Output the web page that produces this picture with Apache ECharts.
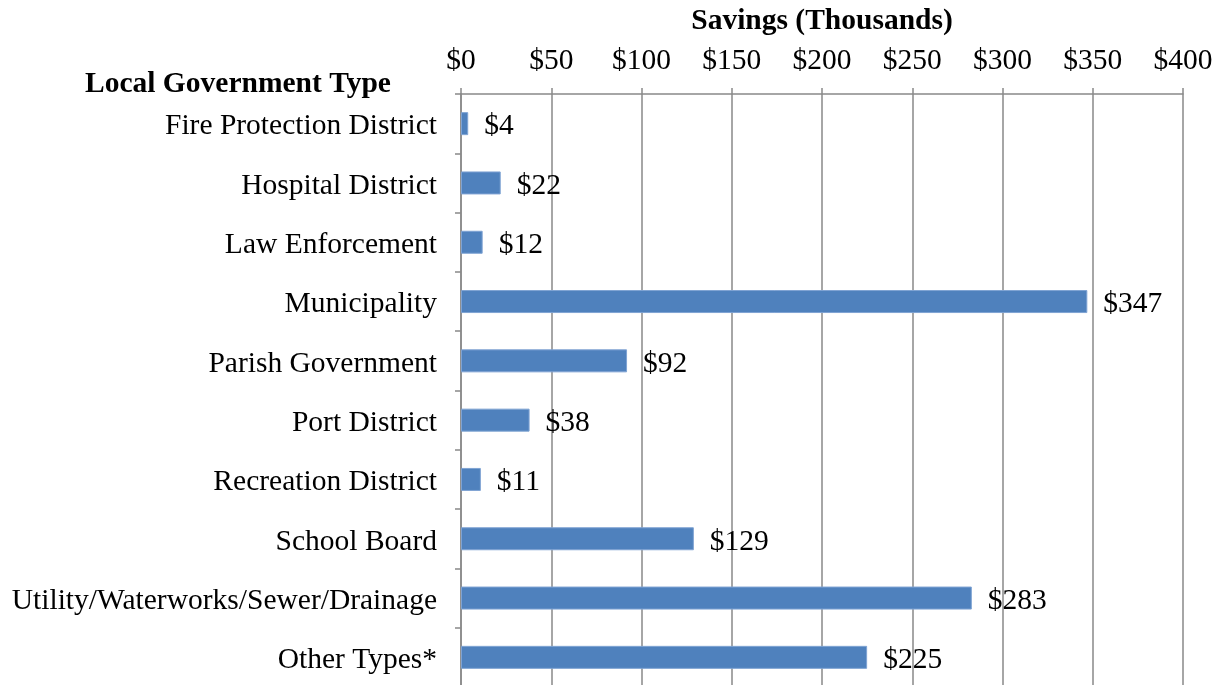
<!DOCTYPE html>
<html lang="en">
<head>
    <meta charset="UTF-8">
    <title>Savings by Local Government Type</title>
    <style>
        html, body { margin: 0; padding: 0; background: #fff; }
        #main { width: 1220px; height: 685px; }
    </style>
    <script src="https://cdn.jsdelivr.net/npm/echarts@6/dist/echarts.min.js"></script>
</head>
<body>
<div id="main"></div>
<script>
    // data
    const categories = [
        'Fire Protection District',
        'Hospital District',
        'Law Enforcement',
        'Municipality',
        'Parish Government',
        'Port District',
        'Recreation District',
        'School Board',
        'Utility/Waterworks/Sewer/Drainage',
        'Other Types*'
    ]
    const savings = [4, 22, 12, 347, 92, 38, 11, 129, 283, 225]
    const xTicks = [0, 50, 100, 150, 200, 250, 300, 350, 400]

    const font = '"Liberation Serif", "Times New Roman", serif'
    const fs = 29.5
    const gray = '#898989'

    let myChart = echarts.init(document.getElementById('main'))
    let option = {
        backgroundColor: '#fff',
        animation: false,
        textStyle: { fontFamily: font, color: '#000' },
        title: {
            text: 'Local Government Type',
            left: 80,
            top: 64,
            textStyle: { fontFamily: font, fontSize: fs, fontWeight: 'bold', color: '#000' }
        },
        grid: { left: 461, right: 37, top: 94, bottom: -2, containLabel: false, outerBoundsMode: 'none' },
        xAxis: {
            type: 'value',
            position: 'top',
            min: xTicks[0],
            max: xTicks[xTicks.length - 1],
            interval: 50,
            name: 'Savings (Thousands)',
            nameLocation: 'middle',
            nameGap: 58,
            nameTextStyle: { fontFamily: font, fontSize: fs, fontWeight: 'bold', color: '#000' },
            axisLine: { show: true, lineStyle: { color: gray, width: 1.5 } },
            axisTick: { show: true, length: 6, lineStyle: { color: gray, width: 1.5 } },
            axisLabel: {
                margin: 18,
                fontFamily: font, fontSize: fs, color: '#000',
                formatter: v => '$' + v
            },
            splitLine: { show: true, lineStyle: { color: gray, width: 1.5 } }
        },
        yAxis: {
            type: 'category',
            data: categories,
            inverse: true,
            axisLine: { show: true, lineStyle: { color: gray, width: 1.5 } },
            axisTick: { show: true, length: 6, lineStyle: { color: gray, width: 1.5 } },
            axisLabel: {
                margin: 24,
                formatter: v => '{c|' + v + '}',
                rich: { c: { fontFamily: font, fontSize: fs, color: '#000', padding: [6, 0, 0, 0] } }
            },
            splitLine: { show: false }
        },
        series: [
            {
                type: 'bar',
                data: savings,
                barWidth: 23,
                itemStyle: { color: '#4F81BD', borderColor: '#7FA3D3', borderWidth: 1 },
                label: {
                    show: true,
                    position: 'right',
                    distance: 16,
                    offset: [0, 3],
                    fontFamily: font, fontSize: fs, color: '#000',
                    formatter: p => '$' + p.value
                }
            }
        ]
    }
    myChart.setOption(option)
</script>
</body>
</html>
